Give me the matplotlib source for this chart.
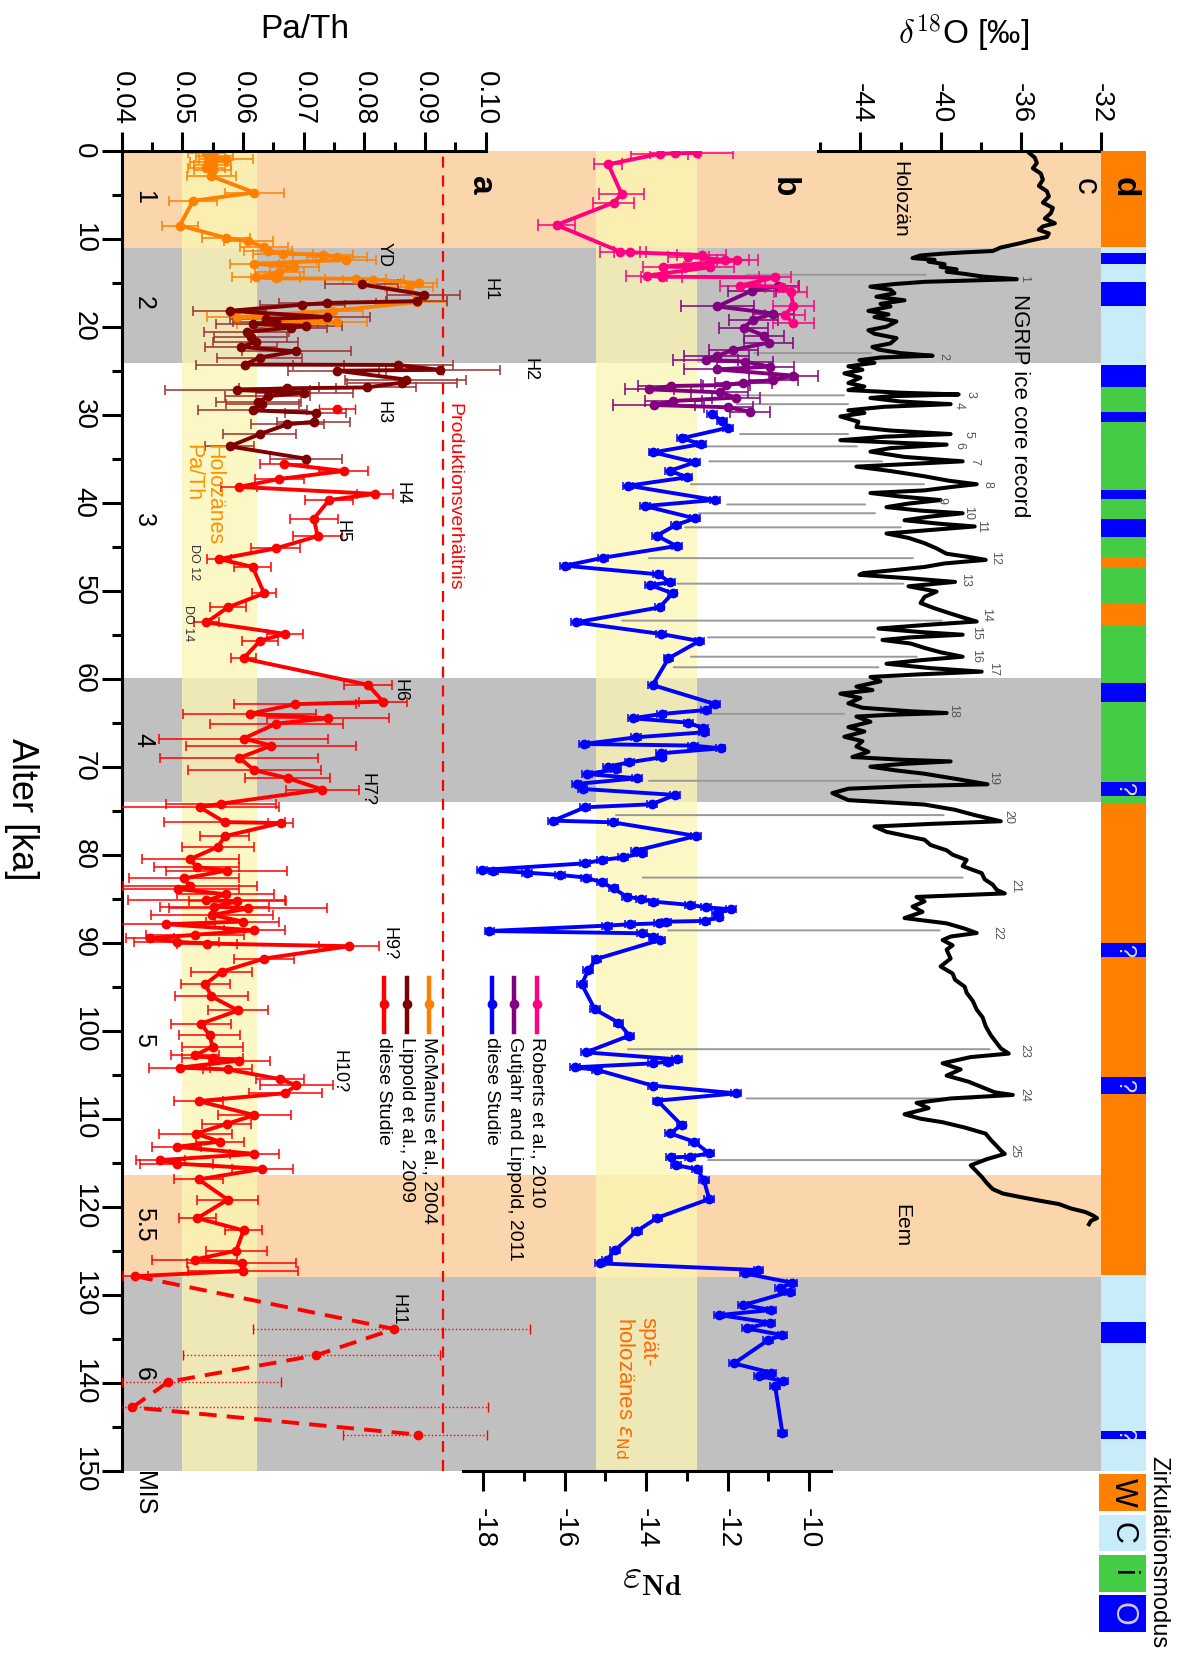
import numpy as np
import matplotlib.pyplot as plt
from matplotlib.patches import ConnectionPatch
from matplotlib.ticker import FormatStrFormatter

plt.rcParams['font.family'] = ['Liberation Sans', 'DejaVu Sans']
plt.rcParams['axes.unicode_minus'] = False

# ── Data: Pa/Th ───────────────────────────────────────────────────────────────
mcm_age = [0.30, 0.61, 0.99, 1.33, 1.63, 2.00, 2.20, 2.90, 4.75, 5.70,
           8.50, 9.90, 10.30, 10.95, 11.40, 11.70, 11.80, 12.10, 12.40, 12.85,
           13.20, 13.80, 14.40, 14.50, 14.55, 14.65, 15.05, 15.50, 17.20, 18.20,
           18.90, 19.50, 19.70]
mcm_pa = [0.0540, 0.0553, 0.0572, 0.0543, 0.0550, 0.0540, 0.0550, 0.0548, 0.0619, 0.0518,
          0.0496, 0.0572, 0.0609, 0.0635, 0.0641, 0.0666, 0.0732, 0.0755, 0.0770, 0.0619,
          0.0685, 0.0660, 0.0622, 0.0654, 0.0786, 0.0815, 0.0890, 0.0874, 0.0887, 0.0748,
          0.0591, 0.0755, 0.0641]
mcm_err = [0.003, 0.003, 0.0045, 0.003, 0.003, 0.003, 0.003, 0.004, 0.0048, 0.004,
           0.003, 0.004, 0.004, 0.004, 0.004, 0.005, 0.005, 0.005, 0.005, 0.004,
           0.004, 0.004, 0.004, 0.004, 0.005, 0.005, 0.003, 0.004, 0.005, 0.005,
           0.005, 0.005, 0.005]

lip_age = [15.20, 16.35, 17.10, 17.30, 17.50, 18.20, 18.90, 19.10, 19.50, 19.70,
           19.90, 20.10, 20.60, 21.20, 21.70, 22.30, 22.80, 23.50, 24.30, 24.35,
           24.90, 25.00, 26.00, 26.35, 26.90, 27.00, 27.20, 27.50, 27.90, 28.60,
           28.80, 29.50, 29.80, 30.80, 31.10, 32.20, 33.60, 35.00]
lip_pa = [0.0796, 0.0898, 0.0886, 0.0739, 0.0698, 0.0578, 0.0739, 0.0638, 0.0654, 0.0616,
          0.0704, 0.0679, 0.0606, 0.0613, 0.0621, 0.0597, 0.0688, 0.0628, 0.0603, 0.0856,
          0.0924, 0.0755, 0.0868, 0.0862, 0.0805, 0.0673, 0.0591, 0.0701, 0.0641, 0.0625,
          0.0632, 0.0616, 0.0720, 0.0717, 0.0673, 0.0628, 0.0578, 0.0704]
lip_err = [0.006, 0.006, 0.005, 0.008, 0.007, 0.006, 0.007, 0.006, 0.007, 0.006,
           0.006, 0.006, 0.007, 0.006, 0.007, 0.006, 0.009, 0.007, 0.008, 0.009,
           0.010, 0.008, 0.010, 0.009, 0.008, 0.008, 0.012, 0.008, 0.007, 0.007,
           0.006, 0.009, 0.005, 0.006, 0.006, 0.006, 0.004, 0.006]

# this study, Pa/Th (solid part)
pa_age = [35.6, 36.4, 37.3, 38.2, 39.0, 39.7, 41.8, 43.8, 45.2, 46.4,
          47.3, 50.3, 51.9, 53.6, 54.9, 55.7, 57.7, 60.7, 62.6, 62.9,
          64.0, 64.5, 65.1, 66.8, 67.6, 69.0, 70.4, 71.3, 72.6, 74.2,
          74.6, 76.3, 76.4, 77.9, 79.1, 80.5, 81.4, 81.8, 82.7, 83.6,
          83.9, 84.5, 85.2, 85.3, 85.9, 86.1, 86.85, 87.6, 87.9, 88.6,
          89.1, 89.5, 89.9, 90.1, 90.4, 91.8, 93.3, 94.7, 96.1, 97.7,
          99.2, 100.5, 101.8, 102.8, 103.1, 103.4, 104.2, 104.4, 105.5, 106.2,
          107.1, 108.0, 109.6, 110.6, 111.7, 112.6, 113.2, 114.0, 114.7, 115.1,
          115.7, 116.9, 119.2, 121.3, 122.7, 125.0, 126.0, 126.4, 127.3, 127.9]
pa_val = [0.0668, 0.0766, 0.0660, 0.0594, 0.0818, 0.0742, 0.0717, 0.0723, 0.0654, 0.0561,
          0.0616, 0.0635, 0.0575, 0.0540, 0.0669, 0.0628, 0.0601, 0.0806, 0.0831, 0.0686,
          0.0611, 0.0740, 0.0655, 0.0601, 0.0647, 0.0594, 0.0619, 0.0674, 0.0731, 0.0564,
          0.0529, 0.0570, 0.0662, 0.0570, 0.0559, 0.0513, 0.0524, 0.0573, 0.0503, 0.0513,
          0.0493, 0.0572, 0.0540, 0.0591, 0.0553, 0.0609, 0.0549, 0.0600, 0.0474, 0.0619,
          0.0521, 0.0447, 0.0491, 0.0541, 0.0775, 0.0635, 0.0565, 0.0538, 0.0548, 0.0592,
          0.0531, 0.0545, 0.0550, 0.0521, 0.0550, 0.0594, 0.0496, 0.0575, 0.0661, 0.0688,
          0.0670, 0.0527, 0.0619, 0.0573, 0.0522, 0.0562, 0.0491, 0.0619, 0.0464, 0.0491,
          0.0632, 0.0527, 0.0575, 0.0525, 0.0601, 0.0589, 0.0521, 0.0598, 0.0600, 0.0423]
pa_err = [0.004, 0.004, 0.004, 0.003, 0.003, 0.004, 0.004, 0.004, 0.004, 0.002,
          0.003, 0.002, 0.003, 0.002, 0.003, 0.003, 0.002, 0.004, 0.004, 0.010,
          0.011, 0.010, 0.011, 0.014, 0.014, 0.013, 0.011, 0.007, 0.006, 0.009,
          0.013, 0.010, 0.002, 0.004, 0.006, 0.008, 0.007, 0.010, 0.009, 0.011,
          0.010, 0.008, 0.013, 0.008, 0.009, 0.013, 0.010, 0.006, 0.008, 0.005,
          0.008, 0.004, 0.007, 0.005, 0.005, 0.005, 0.005, 0.004, 0.006, 0.005,
          0.005, 0.005, 0.005, 0.004, 0.005, 0.005, 0.005, 0.004, 0.004, 0.006,
          0.006, 0.004, 0.006, 0.004, 0.006, 0.004, 0.004, 0.004, 0.004, 0.006,
          0.005, 0.004, 0.005, 0.003, 0.003, 0.005, 0.007, 0.009, 0.009, 0.002]

pa_iso_age = [29.3]
pa_iso_val = [0.0755]
pa_iso_err = [0.003]

# MIS 6 (dashed, uncertain)
mis6_age = [127.9, 133.9, 136.9, 139.9, 142.8, 145.9]
mis6_val = [0.0423, 0.0849, 0.0720, 0.0477, 0.0418, 0.0888]
mis6_err_lo = [0.0, 0.0233, 0.0218, 0.0077, 0.0018, 0.0123]
mis6_err_hi = [0.0, 0.0224, 0.0205, 0.0185, 0.0586, 0.0114]

PROD_RATIO = 0.093
HOLO_PA = (0.050, 0.0623)

# ── Data: eps Nd ──────────────────────────────────────────────────────────────
rob_age = [0.25, 0.30, 0.35, 1.55, 4.92, 5.90, 8.44, 11.47, 11.55, 11.85,
           12.04, 12.42, 12.45, 13.18, 13.25, 14.20, 14.32, 14.39, 15.34, 15.45,
           16.00, 17.61, 18.67, 19.60]
rob_eps = [-12.76, -13.30, -13.66, -14.93, -14.60, -14.80, -16.20, -14.64, -14.40, -12.63,
           -12.96, -12.06, -11.76, -13.58, -12.43, -13.99, -13.62, -10.83, -11.69, -10.67,
           -10.45, -10.38, -10.59, -10.38]
rob_err = [0.9, 0.6, 0.7, 0.35, 0.55, 0.5, 0.45, 0.5, 0.4, 0.6,
           0.5, 0.6, 0.5, 0.5, 0.6, 0.5, 0.5, 0.4, 0.5, 0.4,
           0.4, 0.5, 0.5, 0.5]

gut_age = [15.40, 15.90, 17.70, 18.50, 19.20, 20.10, 21.00, 21.81, 22.65, 23.33,
           23.78, 23.97, 24.54, 24.85, 25.56, 26.06, 26.36, 26.63, 26.74, 27.12,
           27.46, 28.06, 28.44, 28.90, 29.16, 29.66]
gut_eps = [-10.75, -11.40, -12.25, -10.87, -11.37, -11.60, -11.10, -10.99, -11.86, -12.27,
           -12.53, -11.57, -10.96, -12.27, -10.38, -10.87, -11.61, -12.04, -13.40, -13.92,
           -12.19, -11.79, -13.33, -13.81, -11.98, -11.45]
gut_err = [0.5, 0.6, 0.9, 0.5, 0.6, 0.6, 0.5, 0.6, 0.6, 0.8,
           0.8, 0.7, 0.6, 0.8, 0.6, 0.6, 0.7, 0.6, 0.8, 0.6,
           0.7, 0.6, 0.7, 1.0, 0.6, 0.5]

nd_age = [29.92, 30.68, 31.47, 32.69, 33.33, 34.28, 35.41, 36.36, 37.12, 38.07,
          39.69, 40.38, 41.78, 42.54, 43.75, 44.92, 46.25, 47.16, 48.14, 49.05,
          49.35, 50.30, 51.89, 53.60, 54.92, 55.72, 57.69, 60.72, 62.88, 63.56,
          64.01, 64.50, 65.00, 65.64, 66.09, 66.66, 67.42, 67.60, 67.91, 68.48,
          68.93, 69.50, 69.99, 70.30, 70.83, 71.32, 71.96, 72.53, 73.21, 74.27,
          74.61, 76.13, 76.32, 77.87, 79.54, 79.84, 80.30, 80.60, 80.98, 81.74,
          81.80, 82.04, 82.30, 82.60, 83.14, 83.82, 84.77, 85.03, 85.33, 85.71,
          85.98, 86.20, 86.66, 87.11, 87.53, 87.61, 87.80, 87.91, 88.06, 88.67,
          88.93, 89.31, 89.69, 91.85, 93.10, 94.73, 97.57, 99.08, 100.56, 102.46,
          103.25, 103.52, 103.71, 104.16, 104.46, 106.24, 107.12, 107.95, 110.72, 111.67,
          112.61, 113.94, 114.32, 114.40, 115.27, 115.76, 116.97, 119.13, 121.25, 122.77,
          124.93, 126.06, 126.44, 127.20, 127.58, 128.64, 129.28, 129.66, 131.18, 131.74,
          132.31, 133.18, 133.83, 134.59, 135.15, 137.81, 138.87, 139.24, 139.81, 140.38,
          145.76]
nd_eps = [-12.39, -12.14, -11.98, -13.13, -12.64, -13.82, -12.80, -13.41, -13.00, -14.44,
          -12.31, -14.03, -12.80, -13.27, -13.74, -13.25, -15.05, -15.99, -13.70, -13.41,
          -13.90, -13.35, -13.67, -15.72, -13.63, -12.69, -13.45, -13.84, -12.31, -12.53,
          -13.62, -14.33, -12.96, -12.59, -12.58, -14.25, -15.53, -12.84, -12.17, -13.64,
          -13.62, -14.41, -14.93, -14.74, -15.46, -14.22, -15.71, -15.56, -13.29, -13.86,
          -15.50, -16.28, -14.82, -12.77, -14.25, -14.11, -14.56, -15.09, -15.50, -18.04,
          -17.75, -16.93, -16.12, -15.48, -15.09, -14.80, -14.48, -14.13, -13.82, -12.92,
          -12.53, -11.92, -12.27, -12.22, -12.55, -13.50, -13.68, -14.40, -14.97, -17.85,
          -14.11, -13.82, -13.66, -15.22, -15.42, -15.58, -15.26, -14.68, -14.41, -15.48,
          -13.25, -13.45, -13.84, -15.75, -15.20, -13.84, -11.79, -13.72, -13.13, -13.41,
          -12.82, -12.45, -12.92, -13.40, -13.27, -12.74, -12.58, -12.45, -13.72, -14.23,
          -14.76, -14.97, -15.13, -11.24, -11.57, -10.42, -10.71, -10.46, -11.61, -10.92,
          -12.20, -10.96, -11.53, -10.65, -11.00, -11.84, -10.92, -11.22, -10.63, -10.83,
          -10.65]
ND_ERR = 0.12
HOLO_ND = (-15.23, -12.74)

# ── Data: NGRIP d18O ──────────────────────────────────────────────────────────
ngrip_age = [0.0, 0.3, 0.8, 1.4, 2.0, 2.6, 3.3, 4.0, 4.6, 5.2,
             5.9, 6.5, 7.1, 7.7, 8.25, 8.6, 9.0, 9.4, 9.8, 10.2,
             10.5, 11.0, 11.4, 11.55, 11.7, 11.9, 12.2, 12.4, 12.6, 12.9,
             13.2, 13.5, 13.75, 14.0, 14.3, 14.6, 14.75, 14.9, 15.15, 15.45,
             15.8, 16.2, 16.6, 17.0, 17.4, 17.7, 18.2, 18.6, 18.9, 19.4,
             20.0, 20.4, 20.8, 21.3, 21.9, 22.3, 22.6, 23.0, 23.3, 23.5,
             23.8, 24.1, 24.5, 24.9, 25.3, 25.8, 26.4, 26.8, 27.2, 27.5,
             27.7, 27.9, 28.1, 28.5, 28.8, 29.1, 29.5, 29.8, 30.2, 30.8,
             31.4, 31.8, 32.2, 32.5, 32.9, 33.2, 33.4, 33.8, 34.2, 34.8,
             35.3, 35.6, 35.9, 36.4, 37.0, 37.5, 37.9, 38.2, 38.6, 38.9,
             39.3, 39.7, 40.1, 40.5, 40.9, 41.2, 41.6, 42.0, 42.4, 42.7,
             43.1, 43.5, 44.0, 44.6, 45.2, 45.8, 46.2, 46.5, 46.9, 47.3,
             47.7, 48.0, 48.2, 48.6, 49.0, 49.5, 50.1, 50.7, 51.4, 52.0,
             52.6, 53.1, 53.5, 53.9, 54.3, 54.7, 55.0, 55.3, 55.6, 56.0,
             56.5, 57.0, 57.5, 57.9, 58.3, 58.8, 59.2, 59.5, 59.8, 60.3,
             60.9, 61.3, 61.7, 62.2, 62.8, 63.3, 63.7, 63.9, 64.1, 64.3,
             64.9, 65.5, 66.0, 66.6, 67.1, 67.7, 68.3, 68.9, 69.2, 69.4,
             69.7, 70.0, 70.4, 70.8, 71.4, 72.0, 72.2, 72.5, 73.0, 73.4,
             73.8, 74.3, 74.9, 75.5, 76.2, 76.5, 76.8, 77.4, 78.3, 78.9,
             79.5, 80.0, 80.6, 81.3, 82.1, 82.8, 83.4, 84.0, 84.4, 84.8,
             85.3, 85.9, 86.5, 87.2, 87.8, 88.4, 88.9, 89.3, 89.7, 90.3,
             90.8, 91.8, 92.7, 93.5, 94.2, 95.0, 95.7, 96.6, 97.6, 98.5,
             99.5, 100.5, 101.4, 102.0, 102.6, 103.0, 103.7, 104.4, 105.1, 105.8,
             106.4, 107.0, 107.3, 107.7, 108.2, 108.8, 109.5, 110.0, 110.4, 111.0,
             111.7, 112.4, 113.1, 113.6, 114.0, 114.6, 115.3, 116.0, 116.6, 117.3,
             118.0, 118.5, 118.9, 119.3, 119.7, 120.2, 120.6, 121.0, 121.3, 121.6,
             122.0]
ngrip_d18o = [-35.7, -35.56, -35.3, -35.2, -35.4, -35.0, -34.9, -35.1, -34.7, -34.6,
              -34.9, -34.4, -34.5, -34.8, -34.3, -34.9, -35.1, -34.6, -34.7, -35.5,
              -36.0, -37.0, -37.4, -38.8, -39.9, -41.0, -41.4, -40.3, -40.6, -39.8,
              -40.0, -39.2, -39.7, -38.8, -37.9, -36.2, -38.5, -40.8, -42.3, -43.5,
              -42.5, -42.3, -43.2, -41.8, -43.0, -42.5, -43.6, -42.6, -43.3, -42.2,
              -42.7, -43.6, -43.3, -42.2, -42.5, -43.4, -43.1, -42.0, -40.4, -43.0,
              -44.05, -43.3, -44.6, -43.9, -44.8, -44.0, -44.6, -43.8, -44.6, -42.0,
              -39.1, -42.5, -43.5, -42.0, -39.5, -42.8, -44.6, -43.8, -45.0, -44.1,
              -44.2, -42.5, -39.5, -42.8, -45.0, -42.0, -39.7, -42.5, -43.5, -41.8,
              -38.9, -41.5, -44.2, -42.5, -40.8, -39.6, -38.2, -39.4, -40.8, -43.5,
              -42.0, -40.0, -41.6, -42.7, -41.0, -38.9, -40.6, -41.8, -40.0, -38.3,
              -40.5, -42.7, -41.6, -40.8, -40.2, -39.7, -38.5, -37.75, -39.8, -40.8,
              -42.5, -43.86, -44.05, -41.5, -39.28, -41.6, -40.2, -40.8, -41.0, -40.3,
              -39.5, -38.8, -38.2, -40.8, -43.1, -41.0, -38.9, -41.5, -42.9, -41.5,
              -40.8, -40.0, -38.9, -41.0, -42.7, -40.5, -37.95, -41.0, -43.5, -43.0,
              -44.2, -43.4, -45.0, -44.0, -44.6, -43.9, -41.5, -39.7, -42.5, -44.2,
              -43.5, -44.6, -43.8, -44.8, -43.9, -44.2, -43.6, -44.4, -42.0, -39.5,
              -42.0, -43.5, -42.3, -40.8, -39.2, -37.66, -41.5, -44.6, -45.4, -45.0,
              -44.6, -40.8, -39.28, -38.3, -37.0, -40.5, -43.3, -42.7, -40.8, -40.5,
              -39.7, -39.4, -38.7, -38.9, -37.95, -37.8, -37.4, -37.2, -36.8, -41.2,
              -40.8, -41.4, -40.9, -41.8, -39.7, -38.8, -38.2, -39.5, -39.9, -39.4,
              -39.7, -39.5, -40.0, -39.4, -39.28, -38.8, -38.7, -38.4, -38.2, -37.9,
              -37.75, -37.5, -37.2, -37.0, -36.6, -38.5, -39.9, -39.0, -39.7, -38.6,
              -37.95, -37.3, -36.4, -39.5, -41.2, -40.6, -41.8, -41.0, -39.9, -38.8,
              -37.75, -37.5, -37.2, -37.0, -36.8, -37.7, -38.5, -38.2, -37.95, -37.7,
              -37.4, -36.9, -36.03, -35.1, -34.1, -33.5, -32.79, -32.4, -32.2, -32.5,
              -32.6]

# DO interstadial numbers and tie lines (eps Nd start -> d18O end)
do_label = [str(n) for n in range(1, 26)]
do_age = [14.5, 23.4, 27.7, 28.9, 32.2, 33.5, 35.3, 37.9, 39.8, 41.2,
          42.7, 46.3, 48.8, 52.8, 54.8, 57.4, 58.9, 63.7, 71.3, 75.7,
          83.6, 88.9, 102.3, 107.3, 113.7]
do_d18o = [-35.84, -39.85, -38.53, -39.08, -38.63, -39.08, -38.33, -37.66, -39.95, -38.61,
           -37.99, -37.29, -38.80, -37.75, -38.23, -38.23, -37.39, -39.38, -37.39, -36.61,
           -36.26, -37.19, -35.84, -35.84, -36.32]
tie_age = [14.1, 23.0, 27.8, 28.8, 32.2, 33.6, 35.3, 37.9, 40.2, 41.2,
           42.8, 46.3, 49.2, 53.4, 55.3, 57.5, 58.7, 64.0, 71.6, 75.5,
           82.6, 88.6, 102.1, 107.7, 114.7]
tie_eps = [-11.53, -11.35, -11.67, -11.77, -11.69, -12.53, -12.45, -12.90, -12.01, -12.70,
           -13.04, -13.93, -13.23, -14.59, -12.48, -12.90, -13.32, -12.43, -13.93, -14.74,
           -14.08, -13.46, -14.45, -11.53, -12.48]
tie_d18o = [-40.73, -43.47, -44.82, -44.62, -44.62, -44.17, -42.92, -40.83, -43.77, -43.27,
            -41.98, -41.38, -41.86, -39.95, -43.29, -41.19, -43.10, -44.82, -41.00, -39.85,
            -38.90, -40.05, -37.56, -38.33, -38.03]

# Heinrich events etc.
hein_label = ['YD', 'H1', 'H2', 'H3', 'H4', 'H5', 'H6', 'H7?', 'H9?', 'H10?', 'H11']
hein_age = [11.85, 15.8, 24.9, 29.7, 38.9, 43.3, 61.3, 72.6, 90.1, 104.6, 131.7]
hein_pa = [0.0833, 0.1007, 0.1073, 0.0830, 0.0862, 0.0764, 0.0859, 0.0805, 0.0840, 0.0758, 0.0856]

mis_label = ['1', '2', '3', '4', '5', '5.5', '6']
mis_age = [5.3, 17.3, 42.0, 67.0, 101.0, 122.0, 139.0]

# climate bands
band_start = [0.0, 11.1, 59.9, 116.4, 128.0]
band_end = [11.1, 24.1, 74.0, 128.0, 150.0]
band_kind = ['warm', 'cold', 'cold', 'warm', 'cold']

# circulation mode strip
circ_start = [0.0, 10.98, 11.67, 12.9, 14.9, 17.7, 24.4, 26.8, 29.7, 30.8,
              38.56, 39.6, 41.9, 43.86, 46.2, 47.3, 51.5, 53.97, 60.5, 62.7,
              71.7, 73.3, 74.2, 90.07, 91.6, 105.3, 107.2, 127.75, 133.1, 135.5,
              145.5, 146.4]
circ_mode = ['W', 'C', 'O', 'C', 'O', 'C', 'O', 'i', 'O', 'i',
             'O', 'i', 'O', 'i', 'W', 'i', 'W', 'i', 'O', 'i',
             'O', 'i', 'W', 'O', 'W', 'O', 'W', 'C', 'O', 'C',
             'O', 'C']
circ_unsure = [72.5, 90.85, 106.25, 145.95]

# ── Style ─────────────────────────────────────────────────────────────────────
C_MCM = '#FF8000'
C_LIP = '#7F0000'
C_PA = '#FF0000'
C_ROB = '#FF0080'
C_GUT = '#800080'
C_ND = '#0000FF'
BAND_COL = {'warm': '#FBD5AC', 'cold': '#C0C0C0'}
YELLOW = '#FCF6B3'
MODE_COL = {'W': '#FF8000', 'C': '#C8ECFA', 'i': '#44CC44', 'O': '#0000FF'}
LW_AX = 2.2

# ── Layout (pixels of the 1179 x 1654 canvas) ─────────────────────────────────
W, H = 1179, 1654
ROW_0, ROW_150 = 150.7, 1470.7
COL_L, COL_R = 121.5, 1101.0


def px_rect(x0, y0, x1, y1):
    return [x0 / W, 1 - y1 / H, (x1 - x0) / W, (y1 - y0) / H]


def span(val_ref, col_ref, px_per_unit):
    return (val_ref + (COL_L - col_ref) / px_per_unit,
            val_ref + (COL_R - col_ref) / px_per_unit)


fig = plt.figure(figsize=(W / 100, H / 100), dpi=100)
main = px_rect(COL_L, ROW_0, COL_R, ROW_150)
ax_bg = fig.add_axes(main, label='bg')
ax_p = fig.add_axes(main, label='pa', facecolor='none')
ax_e = fig.add_axes(main, label='nd', facecolor='none')
ax_d = fig.add_axes(main, label='d18o', facecolor='none')

for ax in (ax_bg, ax_p, ax_e, ax_d):
    ax.set_ylim(150, 0)
    for sp in ax.spines.values():
        sp.set_visible(False)
for ax in (ax_p, ax_e, ax_d):
    ax.yaxis.set_visible(False)
ax_bg.xaxis.set_visible(False)
ax_bg.set_xlim(0, 1)
ax_p.set_xlim(*span(0.04, COL_L, 6070))
ax_e.set_xlim(*span(-10, 808.9, 40.7))
ax_d.set_xlim(*span(-32, 1101.0, 20.05))

# background bands + age axis
for a0, a1, k in zip(band_start, band_end, band_kind):
    ax_bg.axhspan(a0, a1, color=BAND_COL[k], lw=0)
ax_bg.spines['left'].set_visible(True)
ax_bg.spines['left'].set_linewidth(LW_AX)
ax_bg.set_yticks(np.arange(0, 151, 10))
ax_bg.set_yticks(np.arange(5, 150, 10), minor=True)
ax_bg.tick_params(axis='y', which='both', direction='out', width=LW_AX,
                  labelsize=20, labelrotation=-90, pad=3.5)
ax_bg.tick_params(axis='y', which='major', length=14.4)
ax_bg.tick_params(axis='y', which='minor', length=7.2)
for t in ax_bg.get_yticklabels():
    t.set_va('center')


def top_axis(ax, lo, hi, major, minor, pad):
    ax.spines['top'].set_visible(True)
    ax.spines['top'].set_bounds(lo, hi)
    ax.spines['top'].set_linewidth(LW_AX)
    ax.xaxis.tick_top()
    ax.set_xticks(major)
    ax.set_xticks(minor, minor=True)
    ax.tick_params(axis='x', which='both', direction='out', width=LW_AX,
                   labelsize=20, labelrotation=-90, pad=pad)
    ax.tick_params(axis='x', which='major', length=13.7)
    ax.tick_params(axis='x', which='minor', length=6.5)


top_axis(ax_p, 0.04, 0.10, [0.04, 0.05, 0.06, 0.07, 0.08, 0.09, 0.10],
         [0.045, 0.055, 0.065, 0.075, 0.085, 0.095], 4.8)
ax_p.xaxis.set_major_formatter(FormatStrFormatter('%.2f'))
top_axis(ax_d, -46.1, -32, [-44, -40, -36, -32], [-46, -42, -38, -34], 6)

ax_e.spines['bottom'].set_visible(True)
ax_e.spines['bottom'].set_bounds(-18.5, -9.45)
ax_e.spines['bottom'].set_linewidth(LW_AX)
ax_e.set_xticks([-18, -16, -14, -12, -10])
ax_e.set_xticks([-17, -15, -13, -11], minor=True)
ax_e.tick_params(axis='x', which='both', direction='out', width=LW_AX,
                 labelsize=20, labelrotation=-90, pad=13)
ax_e.tick_params(axis='x', which='major', length=14.1)
ax_e.tick_params(axis='x', which='minor', length=7.2)

# ── Panel a: Pa/Th ────────────────────────────────────────────────────────────
ax_p.axvspan(*HOLO_PA, color=YELLOW, alpha=0.76, lw=0, zorder=0)
ax_p.axvline(PROD_RATIO, color=C_PA, lw=1.6, dashes=(5, 3.5), zorder=1)

EB = dict(fmt='-o', lw=2.8, ms=6, elinewidth=1.1, capsize=3.5, capthick=1.1)
ax_p.errorbar(mcm_pa, mcm_age, xerr=mcm_err, color=C_MCM, ecolor=C_MCM, **EB)
ax_p.errorbar(lip_pa, lip_age, xerr=lip_err, color=C_LIP, ecolor='#9A3030', **EB)
ax_p.errorbar(pa_val, pa_age, xerr=pa_err, color=C_PA, ecolor=C_PA, **EB)
ax_p.errorbar(pa_iso_val, pa_iso_age, xerr=pa_iso_err, fmt='o', color=C_PA,
              ms=6, elinewidth=1.1, capsize=3.5)
ax_p.plot(mis6_val, mis6_age, color=C_PA, lw=2.8, dashes=(4.5, 2.6))
eb6 = ax_p.errorbar(mis6_val[1:], mis6_age[1:],
                    xerr=[mis6_err_lo[1:], mis6_err_hi[1:]], fmt='o',
                    color=C_PA, ms=6, elinewidth=1.0, capsize=3.5)
eb6[2][0].set_linestyle(':')

TXT = dict(rotation=-90, ha='center', va='center', clip_on=False)
for lab, a, v in zip(hein_label, hein_age, hein_pa):
    ax_p.text(v, a, lab, fontsize=13, **TXT)
ax_p.text(0.0520, 46.8, 'DO 12', fontsize=9, color='#333333', **TXT)
ax_p.text(0.0509, 53.7, 'DO 14', fontsize=9, color='#333333', **TXT)
for lab, a in zip(mis_label, mis_age):
    ax_p.text(0.0417, a, lab, fontsize=18, rotation=-90, ha='left', va='center')
ax_p.text(0.0417, 152.6, 'MIS', fontsize=18, rotation=-90, ha='left',
          va='center', clip_on=False)
ax_p.text(0.0947, 39.3, 'Produktionsverhältnis', fontsize=14, color=C_PA, **TXT)
ax_p.text(0.0535, 33.3, 'Holozänes\nPa/Th', fontsize=15.5, color='#FF9000',
          rotation=-90, ha='center', va='top', multialignment='left',
          linespacing=1.0)
ax_p.text(0.0991, 3.9, 'a', fontsize=24, fontweight='bold', **TXT)

# legend Pa/Th
for x, c, lab in zip([0.0906, 0.0870, 0.0832], [C_MCM, C_LIP, C_PA],
                     ['McManus et al., 2004', 'Lippold et al., 2009', 'diese Studie']):
    ax_p.plot([x, x], [94.0, 100.1], color=c, lw=3.2)
    ax_p.plot(x, 97.0, 'o', color=c, ms=6)
    ax_p.text(x, 100.7, lab, fontsize=14, rotation=-90, ha='center', va='top')

# ── Panel b: eps Nd ───────────────────────────────────────────────────────────
ax_e.axvspan(*HOLO_ND, color=YELLOW, alpha=0.76, lw=0, zorder=0)
for a, e0, d1 in zip(tie_age, tie_eps, tie_d18o):
    con = ConnectionPatch(xyA=(e0, a), coordsA=ax_e.transData,
                          xyB=(d1, a), coordsB=ax_d.transData,
                          color='#999999', lw=1.4, zorder=1.5)
    ax_e.add_artist(con)

EBN = dict(fmt='-o', lw=2.8, ms=6, elinewidth=1.1, capthick=1.1)
ax_e.errorbar(nd_eps, nd_age, xerr=ND_ERR, color=C_ND, ecolor=C_ND, capsize=3, **EBN)
ax_e.errorbar(gut_eps, gut_age, xerr=gut_err, color=C_GUT, ecolor=C_GUT, capsize=4.5, **EBN)
ax_e.errorbar(rob_eps, rob_age, xerr=rob_err, color=C_ROB, ecolor=C_ROB, capsize=4.5, **EBN)

ax_e.text(-14.26, 132.5, 'spät-\nholozänes $\\varepsilon_{\\mathrm{Nd}}$', fontsize=16,
          color='#FF6A00', rotation=-90, ha='center', va='top',
          multialignment='left', linespacing=1.05)
ax_e.text(-10.64, 4.1, 'b', fontsize=24, fontweight='bold', **TXT)

for x, c, lab in zip([-16.68, -17.24, -17.79], [C_ROB, C_GUT, C_ND],
                     ['Roberts et al., 2010', 'Gutjahr and Lippold, 2011', 'diese Studie']):
    ax_e.plot([x, x], [94.0, 100.1], color=c, lw=3.2)
    ax_e.plot(x, 97.0, 'o', color=c, ms=6)
    ax_e.text(x, 100.7, lab, fontsize=14, rotation=-90, ha='center', va='top')

# ── Panel c: NGRIP d18O ───────────────────────────────────────────────────────
ax_d.plot(ngrip_d18o, ngrip_age, color='black', lw=2.9, zorder=3)
for lab, a, v in zip(do_label, do_age, do_d18o):
    ax_d.text(v, a, lab, fontsize=9, color='#555555', **TXT)
ax_d.text(-42.05, 5.5, 'Holozän', fontsize=15, **TXT)
ax_d.text(-41.95, 122.2, 'Eem', fontsize=15, **TXT)
ax_d.text(-36.04, 29.0, 'NGRIP ice core record', fontsize=16, **TXT)
ax_d.text(-32.8, 4.1, 'c', fontsize=24, **TXT)

# ── Panel d: circulation mode strip ───────────────────────────────────────────
ax_m = fig.add_axes(px_rect(1101.0, ROW_0, 1146.4, ROW_150), label='mode')
ax_m.set_ylim(150, 0)
ax_m.set_xlim(0, 1)
ax_m.axis('off')
circ_end = circ_start[1:] + [150.0]
for a0, a1, m in zip(circ_start, circ_end, circ_mode):
    ax_m.axhspan(a0, a1, color=MODE_COL[m], lw=0)
for a in circ_unsure:
    ax_m.text(0.5, a, '?', fontsize=17, color='#DDDDDD', **TXT)
ax_m.text(0.5, 4.1, 'd', fontsize=24, fontweight='bold', **TXT)

ax_l = fig.add_axes(px_rect(1099.0, 1472.7, 1146.4, 1633.5), label='modeleg')
ax_l.set_ylim(4, 0)
ax_l.set_xlim(0, 1)
ax_l.axis('off')
leg_modes = ['W', 'C', 'i', 'O']
ax_l.barh([0.5, 1.5, 2.5, 3.5], 1, height=0.92, left=0,
          color=[MODE_COL[m] for m in leg_modes])
for i, (m, tc) in enumerate(zip(leg_modes, ['black', 'black', 'black', '#CCCCCC'])):
    ax_l.text(0.5, i + 0.5, m, fontsize=22, color=tc, **TXT)

# ── Axis titles ───────────────────────────────────────────────────────────────
fig.text(21 / W, 1 - 809 / H, 'Alter [ka]', fontsize=26, rotation=-90,
         ha='center', va='center')
fig.text(305 / W, 1 - 30 / H, 'Pa/Th', fontsize=24, ha='center', va='center')
fig.text(964 / W, 1 - 33 / H, '$\\delta^{18}$O [‰]', fontsize=24,
         ha='center', va='center', math_fontfamily='cm')
fig.text(652 / W, 1 - 1578 / H, '$\\varepsilon_{\\mathbf{Nd}}$', fontsize=30,
         ha='center', va='center', math_fontfamily='cm')
fig.text(1158 / W, 1 - 1552 / H, 'Zirkulationsmodus', fontsize=17,
         rotation=-90, ha='center', va='center')

fig.savefig('out.png', dpi=100)
